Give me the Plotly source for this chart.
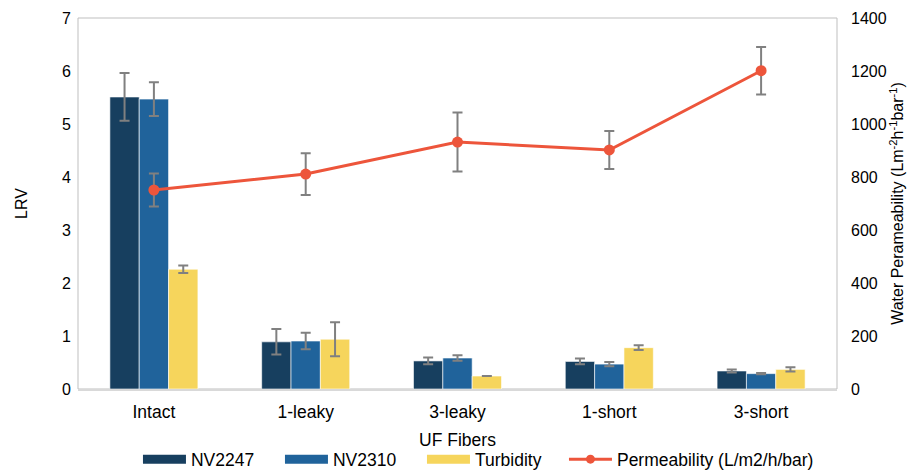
import plotly.graph_objects as go

categories = ["Intact", "1-leaky", "3-leaky", "1-short", "3-short"]
nv2247 = [5.51, 0.89, 0.53, 0.52, 0.34]
nv2247_err = [0.45, 0.24, 0.065, 0.055, 0.03]
nv2310 = [5.47, 0.905, 0.585, 0.47, 0.29]
nv2310_err = [0.32, 0.155, 0.05, 0.04, 0.01]
turbidity = [2.26, 0.94, 0.245, 0.78, 0.37]
turbidity_err = [0.07, 0.32, None, 0.045, 0.04]
permeability = [751, 811, 932, 902, 1201]
permeability_err = [62, 79, 111, 72, 90]

FONT = "Liberation Sans, Arial, sans-serif"
ERR = dict(type="data", color="#808080", thickness=2, width=5)
COLORS = {"NV2247": "#173F5F", "NV2310": "#20639B", "Turbidity": "#F6D55C"}

fig = go.Figure()
for name, vals, errs in [
    ("NV2247", nv2247, nv2247_err),
    ("NV2310", nv2310, nv2310_err),
    ("Turbidity", turbidity, turbidity_err),
]:
    fig.add_trace(go.Bar(
        x=categories, y=vals, name=name, showlegend=False,
        marker=dict(color=COLORS[name], line=dict(color="rgba(255,255,255,0.6)", width=1)),
        error_y=dict(array=errs, visible=True, **ERR),
    ))

fig.add_trace(go.Scatter(
    x=categories, y=permeability, name="Permeability (L/m2/h/bar)",
    yaxis="y2", mode="lines+markers", showlegend=False,
    line=dict(color="#ED553B", width=3),
    marker=dict(color="#ED553B", size=11),
    error_y=dict(array=permeability_err, visible=True, **ERR),
))

# legend-only entries (wide swatches like the reference)
for name in ["NV2247", "NV2310", "Turbidity"]:
    fig.add_trace(go.Scatter(x=[None], y=[None], mode="lines", name=name,
                             line=dict(color=COLORS[name], width=9)))
fig.add_trace(go.Scatter(x=[None], y=[None], mode="lines+markers", yaxis="y2",
                         name="Permeability (L/m2/h/bar)",
                         line=dict(color="#ED553B", width=3),
                         marker=dict(color="#ED553B", size=9)))
# invisible spacer entry so the last legend label is not clipped
fig.add_trace(go.Scatter(x=[None], y=[None], mode="lines", name=" ", hoverinfo="skip",
                         line=dict(color="rgba(0,0,0,0)", width=1)))

# page body has an 8px default margin: size/margins compensate for it
fig.update_layout(
    width=908, height=463,
    margin=dict(l=70, r=79, t=10, b=82, autoexpand=False),
    paper_bgcolor="white", plot_bgcolor="white",
    font=dict(family=FONT, size=16, color="#000000"),
    barmode="group", bargap=0.42, bargroupgap=0,
    showlegend=True,
    legend=dict(orientation="h", x=0.079, xanchor="left", y=-0.141, yanchor="top",
                font=dict(size=17.5), traceorder="normal",
                itemwidth=43, entrywidth=84, entrywidthmode="pixels"),
    xaxis=dict(showgrid=False, showline=True, linecolor="#d9d9d9", linewidth=2,
               ticks="", tickfont=dict(size=17.5), automargin=False, fixedrange=True,
               ticklabelstandoff=6,
               title=dict(text="UF Fibers", font=dict(size=17.5), standoff=13)),
    yaxis=dict(range=[0, 7], dtick=1, showgrid=False, zeroline=False, showline=False,
               ticks="", tickfont=dict(size=16), ticklabelstandoff=6, automargin=False,
               title=dict(text="LRV", font=dict(size=16), standoff=30)),
    yaxis2=dict(range=[0, 1400], dtick=200, overlaying="y", side="right",
                showgrid=False, zeroline=False, showline=False, ticks="", automargin=False,
                tickfont=dict(size=16), ticklabelstandoff=13,
                title=dict(text="Water Perameability (Lm<sup>-2</sup>h<sup>-1</sup>bar<sup>-1</sup>)",
                           font=dict(size=16), standoff=5)),
    shapes=[dict(type="rect", xref="paper", yref="paper", x0=0, x1=1, y0=0, y1=1,
                 line=dict(color="#bfbfbf", width=1), layer="below")],
)

fig.write_html("out.html")
